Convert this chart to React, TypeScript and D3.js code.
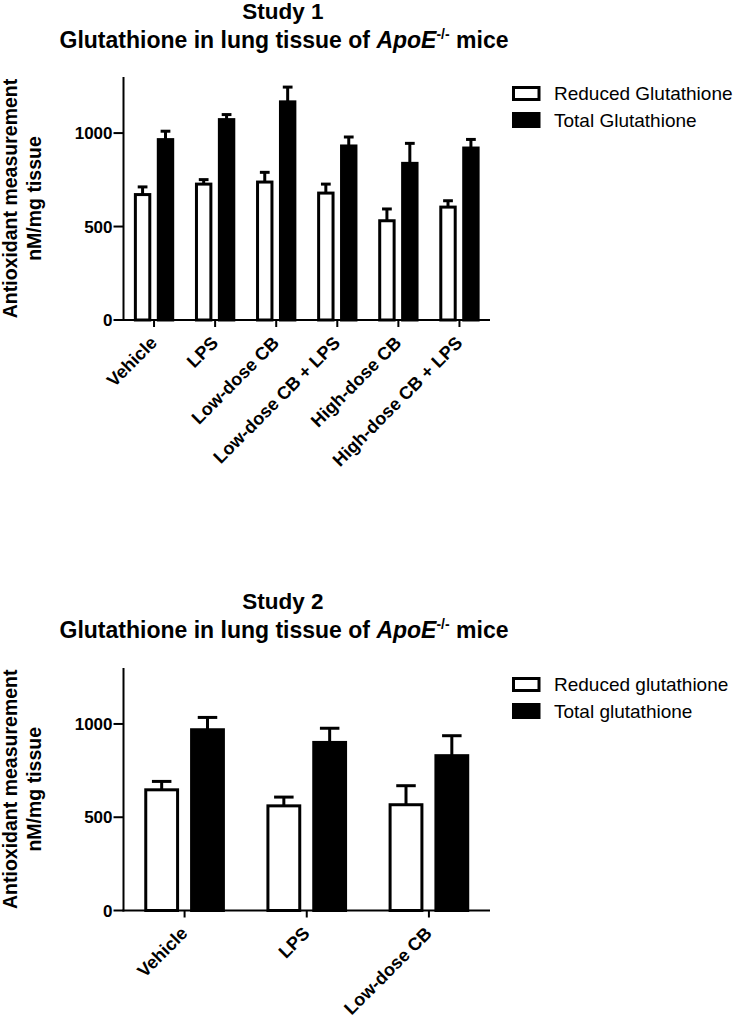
import React from "react";
import * as d3 from "d3";

const categories1 = ["Vehicle", "LPS", "Low-dose CB", "Low-dose CB + LPS", "High-dose CB", "High-dose CB + LPS"];
const reduced1 = [671, 727, 738, 679, 531, 604];
const reducedErr1 = [41, 24, 52, 48, 63, 34];
const total1 = [965, 1072, 1167, 931, 838, 920];
const totalErr1 = [45, 27, 79, 48, 107, 46];
const legend1 = ["Reduced Glutathione", "Total Glutathione"];

const categories2 = ["Vehicle", "LPS", "Low-dose CB"];
const reduced2 = [647, 561, 567];
const reducedErr2 = [45, 47, 102];
const total2 = [969, 901, 830];
const totalErr2 = [66, 76, 107];
const legend2 = ["Reduced glutathione", "Total glutathione"];

const yTicks = [0, 500, 1000];
const yMax = 1300;

const FONT = "'Liberation Sans', Arial, Helvetica, sans-serif";

type PanelProps = {
  study: string;
  categories: string[];
  reduced: number[];
  reducedErr: number[];
  total: number[];
  totalErr: number[];
  legend: string[];
  titleY: number;
  plotTop: number;
  plotBottom: number;
};

function Panel(p: PanelProps) {
  const x0 = 123.5;
  const x1 = 490;
  const x = d3.scaleBand<string>().domain(p.categories).range([x0, x1]).paddingInner(0).paddingOuter(0);
  const inner = d3
    .scaleBand<string>()
    .domain(["reduced", "total"])
    .range([0, x.bandwidth()])
    .paddingInner(0.24)
    .paddingOuter(0.453);
  const y = d3.scaleLinear().domain([0, yMax]).range([p.plotBottom, p.plotTop]);
  const sw = 3;
  const bw = inner.bandwidth();
  const capW = bw * 0.56;
  const cy = (p.plotTop + p.plotBottom) / 2;

  const series = [
    { key: "reduced", vals: p.reduced, errs: p.reducedErr, fill: "#fff" },
    { key: "total", vals: p.total, errs: p.totalErr, fill: "#000" },
  ];

  return (
    <g>
      {/* Titles */}
      <text x={283} y={p.titleY} textAnchor="middle" fontFamily={FONT} fontWeight="bold" fontSize={22.5}>
        {p.study}
      </text>
      <text x={284} y={p.titleY + 29} textAnchor="middle" fontFamily={FONT} fontWeight="bold" fontSize={23}>
        <tspan>Glutathione in lung tissue of </tspan>
        <tspan fontStyle="italic">ApoE</tspan>
        <tspan fontSize={14} dy={-9}>-/-</tspan>
        <tspan dy={9}> mice</tspan>
      </text>

      {/* Y label */}
      <text
        transform={`translate(17,${cy}) rotate(-90)`}
        textAnchor="middle"
        fontFamily={FONT}
        fontWeight="bold"
        fontSize={19.5}
      >
        Antioxidant measurement
      </text>
      <text
        transform={`translate(41,${cy}) rotate(-90)`}
        textAnchor="middle"
        fontFamily={FONT}
        fontWeight="bold"
        fontSize={19.5}
      >
        nM/mg tissue
      </text>

      {/* Bars */}
      {series.map((s) =>
        p.categories.map((c, i) => {
          const bx = (x(c) as number) + (inner(s.key) as number);
          const v = s.vals[i];
          const e = s.errs[i];
          const cx = bx + bw / 2;
          return (
            <g key={s.key + c}>
              <line x1={cx} x2={cx} y1={y(v)} y2={y(v + e)} stroke="#000" strokeWidth={sw} />
              <line x1={cx - capW / 2} x2={cx + capW / 2} y1={y(v + e)} y2={y(v + e)} stroke="#000" strokeWidth={sw} />
              <rect
                x={bx + sw / 2}
                y={y(v)}
                width={bw - sw}
                height={y(0) - y(v)}
                fill={s.fill}
                stroke="#000"
                strokeWidth={sw}
              />
            </g>
          );
        })
      )}

      {/* Y axis */}
      <line x1={x0} x2={x0} y1={p.plotTop} y2={p.plotBottom + 1} stroke="#000" strokeWidth={2} />
      {yTicks.map((t) => (
        <g key={t}>
          <line x1={x0 - 10} x2={x0} y1={y(t)} y2={y(t)} stroke="#000" strokeWidth={2} />
          <text
            x={x0 - 11}
            y={y(t)}
            dy="0.36em"
            textAnchor="end"
            fontFamily={FONT}
            fontWeight="bold"
            fontSize={17}
          >
            {t}
          </text>
        </g>
      ))}

      {/* X axis */}
      <line x1={x0 - 1} x2={x1} y1={p.plotBottom} y2={p.plotBottom} stroke="#000" strokeWidth={2} />
      {p.categories.map((c) => {
        const tx = (x(c) as number) + x.bandwidth() / 2;
        return (
          <g key={c}>
            <line x1={tx} x2={tx} y1={p.plotBottom} y2={p.plotBottom + 7} stroke="#000" strokeWidth={2} />
            <text
              transform={`translate(${tx + 4},${p.plotBottom + 24}) rotate(-45)`}
              textAnchor="end"
              fontFamily={FONT}
              fontWeight="bold"
              fontSize={18}
            >
              {c}
            </text>
          </g>
        );
      })}

      {/* Legend */}
      <rect x={513.5} y={p.plotTop + 10.5} width={25.5} height={12} fill="#fff" stroke="#000" strokeWidth={3} />
      <rect x={512} y={p.plotTop + 35} width={28.5} height={16} fill="#000" />
      <text x={554} y={p.plotTop + 23} fontFamily={FONT} fontSize={19}>
        {p.legend[0]}
      </text>
      <text x={554} y={p.plotTop + 50} fontFamily={FONT} fontSize={19}>
        {p.legend[1]}
      </text>
    </g>
  );
}

export default function App() {
  return (
    <svg
      width={736}
      height={1019}
      viewBox="0 0 736 1019"
      style={{ position: "absolute", left: 0, top: 0, background: "#fff" }}
    >
      <rect x={0} y={0} width={736} height={1019} fill="#fff" />
      <Panel
        study="Study 1"
        categories={categories1}
        reduced={reduced1}
        reducedErr={reducedErr1}
        total={total1}
        totalErr={totalErr1}
        legend={legend1}
        titleY={19}
        plotTop={77}
        plotBottom={320}
      />
      <Panel
        study="Study 2"
        categories={categories2}
        reduced={reduced2}
        reducedErr={reducedErr2}
        total={total2}
        totalErr={totalErr2}
        legend={legend2}
        titleY={609}
        plotTop={668}
        plotBottom={910.5}
      />
    </svg>
  );
}
